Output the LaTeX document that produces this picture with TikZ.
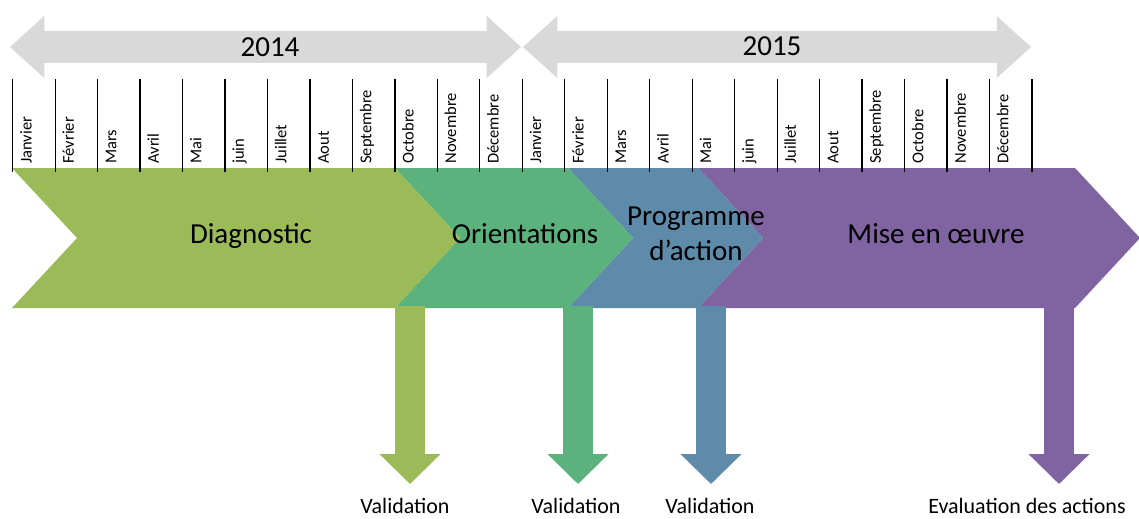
\documentclass[tikz,border=0pt]{standalone}
\usepackage{fontspec}
\setmainfont{Carlito}
\usetikzlibrary{arrows.meta}

\definecolor{diaggreen}{RGB}{155,187,89}
\definecolor{oriengreen}{RGB}{91,178,124}
\definecolor{progblue}{RGB}{95,139,170}
\definecolor{misepurple}{RGB}{128,100,162}
\definecolor{yeargray}{RGB}{217,217,217}

\tikzset{
	yeararrow/.style={color=yeargray, line width=17.9pt,
		{Triangle[width=35.3pt,length=19.5pt,line width=0pt]}-{Triangle[width=35.3pt,length=19.5pt,line width=0pt]}},
	downarrow/.style={line width=16.8pt, -{Triangle[width=34.7pt,length=17pt,line width=0pt]}, shorten >=8pt},
	monthtick/.style={line width=0.7pt},
	month/.style={rotate=90, anchor=base west, inner sep=0pt, font=\fontsize{9.4}{11}\selectfont},
	yeartext/.style={anchor=base, font=\fontsize{16.5}{20}\selectfont},
	phase/.style={anchor=base, font=\fontsize{16.5}{19.5}\selectfont, align=center},
	validation/.style={anchor=north, inner sep=0pt, font=\fontsize{12.5}{15}\selectfont}
}

\begin{document}
\begin{tikzpicture}[x=0.02cm, y=-0.02cm]
	\useasboundingbox (0,0) rectangle (1139,518);
	\foreach \xa/\xb/\col in {698/1075/misepurple, 568/698/progblue, 395/568/oriengreen, 12/395/diaggreen}
		\fill[\col] (\xa,168) -- (\xb,168) -- ++(65,70) -- ++(-65,70) -- (\xa,308) -- ++(65,-70) -- cycle;
	\coordinate (start2014) at (10,47);
	\coordinate (end2014) at (521,47);
	\coordinate (start2015) at (523,47);
	\coordinate (end2015) at (1031,47);
	\draw[yeararrow] (start2014) -- (end2014);
	\draw[yeararrow] (start2015) -- (end2015);
	\node[yeartext] (y2014) at (270,56) {2014};
	\node[yeartext] (y2015) at (772,55) {2015};
	\foreach \m [count=\i from 0] in {Janvier, Février, Mars, Avril, Mai, juin, Juillet, Aout, Septembre, Octobre, Novembre, Décembre, Janvier, Février, Mars, Avril, Mai, juin, Juillet, Aout, Septembre, Octobre, Novembre, Décembre} {
		\draw[monthtick] (12.7+42.47*\i,79) -- (12.7+42.47*\i,172);
		\node[month] (month\i) at (31.5+42.47*\i,164) {\m};
	}
	\draw[monthtick] (1032,79) -- (1032,172);
	\node[phase] (diagnostic) at (251,243) {Diagnostic};
	\node[phase] (orientations) at (525,243) {Orientations};
	\node[phase] (programme) at (696,260) {Programme\\d’action};
	\node[phase] (mise) at (936,243) {Mise en œuvre};
	\node[validation] (val1) at (405,498) {Validation};
	\node[validation] (val2) at (576,498) {Validation};
	\node[validation] (val3) at (710,498) {Validation};
	\node[validation] (val4) at (1027,498) {Evaluation des actions};
	\coordinate (diagend) at (410,306);
	\coordinate (orienend) at (578,306);
	\coordinate (progend) at (711,306);
	\coordinate (miseend) at (1059,306);
	\draw[downarrow, diaggreen] (diagend) -- (diagend |- val1.north);
	\draw[downarrow, oriengreen] (orienend) -- (orienend |- val2.north);
	\draw[downarrow, progblue] (progend) -- (progend |- val3.north);
	\draw[downarrow, misepurple] (miseend) -- (miseend |- val4.north);
\end{tikzpicture}
\end{document}
